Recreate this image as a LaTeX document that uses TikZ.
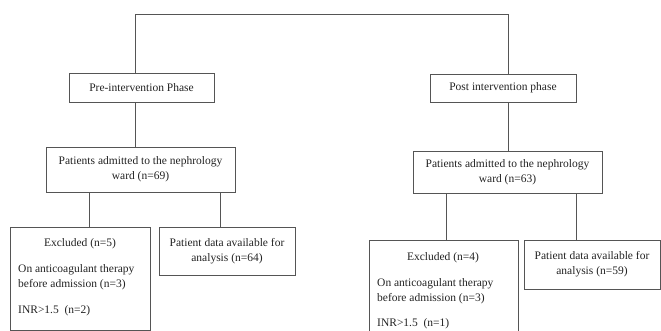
\documentclass[tikz,border=0pt]{standalone}
\usepackage{fontspec}
\setmainfont{Liberation Serif}
\usepackage{xcolor}
\definecolor{lineGray}{RGB}{85,85,85}
\definecolor{textGray}{RGB}{35,35,35}
\tikzset{
  flowbox/.style={draw=lineGray, line width=0.8pt, align=center, inner sep=2pt,
    text=textGray, font=\fontsize{11.5}{15}\selectfont},
  boxtext/.style={inner sep=0pt, text=textGray, font=\fontsize{11.5}{15}\selectfont},
  link/.style={draw=lineGray, line width=0.8pt}
}

\begin{document}
\begin{tikzpicture}[x=1pt,y=-1pt]
    \useasboundingbox (0,0) rectangle (661,331);
    \clip (0,0) rectangle (661,331);

    % Study phases
    \node[flowbox, minimum width=145pt, minimum height=29pt] (pre) at (141.5,87.5) {Pre-intervention Phase};
    \node[flowbox, minimum width=146pt, minimum height=28pt] (post) at (503,88) {Post intervention phase};

    % Top bracket joining the two phases
    \coordinate (topL) at (135,14);
    \coordinate (topR) at (508,14);
    \draw[link] (pre.north -| topL) -- (topL) -- (topR) -- (post.north -| topR);

    % Admitted patients
    \node[flowbox, minimum width=189pt, minimum height=45pt] (admL) at (140.5,169.5) {Patients admitted to the nephrology\\ward (n=69)};
    \node[flowbox, minimum width=189pt, minimum height=42pt] (admR) at (507.5,172) {Patients admitted to the nephrology\\ward (n=63)};
    \draw[link] (pre.south -| topL) -- (admL.north -| topL);
    \draw[link] (post.south -| topR) -- (admR.north -| topR);

    % Pre-intervention: excluded and analysed
    \node[flowbox, minimum width=140pt, minimum height=103pt] (excL) at (80,278.5) {};
    \node[boxtext, anchor=base] (excLhead) at (80,246.5) {Excluded (n=5)};
    \node[boxtext, anchor=base west] (excLa) at (18,272.5) {On anticoagulant therapy};
    \node[boxtext, anchor=base west] (excLb) at (18,287.5) {before admission (n=3)};
    \node[boxtext, anchor=base west] (excLc) at (18,313.5) {INR>1.5\ \ (n=2)};
    \node[flowbox, minimum width=136pt, minimum height=48pt] (datL) at (227,251) {Patient data available for\\analysis (n=64)};
    \draw[link] (admL.south -| 89,0) -- (excL.north -| 89,0);
    \draw[link] (admL.south -| 220,0) -- (datL.north -| 220,0);

    % Post-intervention: excluded and analysed
    \node[flowbox, minimum width=149pt, minimum height=110pt] (excR) at (443.5,295) {};
    \node[boxtext, anchor=base] (excRhead) at (443,260.5) {Excluded (n=4)};
    \node[boxtext, anchor=base west] (excRa) at (377,286.5) {On anticoagulant therapy};
    \node[boxtext, anchor=base west] (excRb) at (377,301.5) {before admission (n=3)};
    \node[boxtext, anchor=base west] (excRc) at (377,326.5) {INR>1.5\ \ (n=1)};
    \node[flowbox, minimum width=136pt, minimum height=49pt] (datR) at (592,264.5) {Patient data available for\\analysis (n=59)};
    \draw[link] (admR.south -| 446,0) -- (excR.north -| 446,0);
    \draw[link] (admR.south -| 576,0) -- (datR.north -| 576,0);
\end{tikzpicture}
\end{document}
